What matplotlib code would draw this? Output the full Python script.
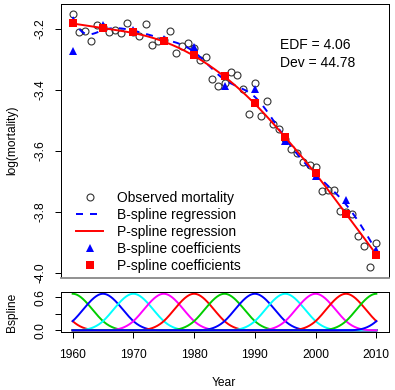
import numpy as np
import matplotlib
matplotlib.use('Agg')
import matplotlib.pyplot as plt
from matplotlib.lines import Line2D

plt.rcParams['font.family'] = ['Liberation Sans', 'DejaVu Sans']

# ---------------- data ----------------
years = list(range(1960, 2011))
log_mortality = [
    -3.152, -3.209, -3.205, -3.238, -3.186, -3.192, -3.209, -3.203, -3.214, -3.180,
    -3.210, -3.223, -3.183, -3.252, -3.238, -3.235, -3.205, -3.278, -3.255, -3.247,
    -3.262, -3.302, -3.292, -3.365, -3.386, -3.378, -3.341, -3.352, -3.398, -3.478,
    -3.376, -3.485, -3.438, -3.512, -3.529, -3.560, -3.594, -3.609, -3.638, -3.648,
    -3.653, -3.733, -3.728, -3.728, -3.799, -3.800, -3.808, -3.881, -3.914, -3.981,
    -3.903,
]
# coefficients of the 13 cubic B-splines (centres 1955, 1960, ..., 2015)
coef_years = list(range(1955, 2016, 5))
bspline_coef = [-2.69, -3.271, -3.187, -3.203, -3.234, -3.258, -3.386, -3.396,
                -3.569, -3.682, -3.763, -3.925, -4.117]
pspline_coef = [-3.170, -3.181, -3.198, -3.211, -3.238, -3.285, -3.353, -3.442,
                -3.555, -3.673, -3.807, -3.941, -4.075]
edf_text = 'EDF = 4.06'
dev_text = 'Dev = 44.78'
legend_labels = ['Observed mortality', 'B-spline regression', 'P-spline regression',
                 'B-spline coefficients', 'P-spline coefficients']
basis_colors = ['#FF0000', '#00CD00', '#0000FF', '#00FFFF', '#FF00FF']


def bbase(x, xl, xr, ndx, deg=3):
    dx = (xr - xl) / ndx
    t = xl + dx * np.arange(-deg, ndx + deg + 1)
    x = np.asarray(x, float)
    B = ((x[:, None] >= t[None, :-1]) & (x[:, None] < t[None, 1:])).astype(float)
    for d in range(1, deg + 1):
        nb = len(t) - 1 - d
        Bn = np.zeros((len(x), nb))
        for i in range(nb):
            left = (x - t[i]) / (t[i + d] - t[i]) * B[:, i]
            right = (t[i + d + 1] - x) / (t[i + d + 1] - t[i + 1]) * B[:, i + 1]
            Bn[:, i] = left + right
        B = Bn
    return B


xg = np.linspace(1960, 2010 - 1e-9, 600)
Bg = bbase(xg, 1960, 2010, 10)
b_fit = Bg @ np.array(bspline_coef)
p_fit = Bg @ np.array(pspline_coef)

W, H = 395, 390
fig = plt.figure(figsize=(W / 100, H / 100), dpi=100)
FS = 8.64
FS2 = 10.0
LW = 0.72

ax = fig.add_axes([60.5 / W, 1 - 277.5 / H, 328 / W, 273.5 / H])
ax.plot(years, log_mortality, 'o', mfc='none', mec='#333333', ms=5.0, mew=0.8, zorder=2)
ax.plot(xg, b_fit, '--', color='blue', lw=1.4, dashes=(3.6, 3.6), zorder=3)
ax.plot(xg, p_fit, '-', color='red', lw=1.4, zorder=4)
ax.plot(coef_years, bspline_coef, '^', color='blue', ms=6, mew=0, zorder=5)
ax.plot(coef_years, pspline_coef, 's', color='red', ms=5.2, mew=0, zorder=6)
ax.set_xlim(1958, 2012)
ax.set_ylim(-4.0164, -3.1179)
ax.set_xticks([])
ax.set_yticks([-4.0, -3.8, -3.6, -3.4, -3.2])
ax.set_yticklabels(['-4.0', '-3.8', '-3.6', '-3.4', '-3.2'])
ax.tick_params(axis='y', direction='out', length=4.3, width=LW, labelsize=FS,
               pad=6.0, labelrotation=90)
for lab in ax.get_yticklabels():
    lab.set_va('center')
for s in ax.spines.values():
    s.set_linewidth(LW)
    s.set_color('black')
ax.spines['bottom'].set_color('#888888')
ax.spines['bottom'].set_linewidth(1.3)

ax.text(1994.2, -3.252, edf_text, fontsize=FS2, va='center', ha='left')
ax.text(1994.2, -3.312, dev_text, fontsize=FS2, va='center', ha='left')

handles = [
    Line2D([], [], ls='none', marker='o', mfc='none', mec='#333333', ms=5.0, mew=0.8),
    Line2D([], [], ls='--', color='blue', lw=1.4, dashes=(3.6, 3.6)),
    Line2D([], [], ls='-', color='red', lw=1.4),
    Line2D([], [], ls='none', marker='^', color='blue', ms=6, mew=0),
    Line2D([], [], ls='none', marker='s', color='red', ms=5.2, mew=0),
]
fig.legend(handles, legend_labels, loc='upper left', bbox_to_anchor=(76 / W, 1 - 190.5 / H),
           frameon=False, fontsize=FS2, handlelength=1.95, handletextpad=1.0,
           labelspacing=0.22, borderpad=0, borderaxespad=0)

fig.text(12 / W, 1 - 140.5 / H, 'log(mortality)', rotation=90, ha='center', va='center',
         fontsize=FS)

# ---------------- basis panel ----------------
ax2 = fig.add_axes([60.5 / W, 1 - 331.7 / H, 328 / W, 39.4 / H])
for j in range(Bg.shape[1]):
    ax2.plot(xg, Bg[:, j], '-', color=basis_colors[j % 5], lw=1.4)
ax2.set_xlim(1958, 2012)
ax2.set_ylim(-0.0267, 0.6933)
ax2.set_xticks([1960, 1970, 1980, 1990, 2000, 2010])
ax2.set_yticks([0.0, 0.3, 0.6])
ax2.set_yticklabels(['0.0', '', '0.6'])
ax2.tick_params(axis='y', direction='out', length=4.3, width=LW, labelsize=FS,
                pad=6.0, labelrotation=90)
for lab in ax2.get_yticklabels():
    lab.set_va('center')
ax2.tick_params(axis='x', direction='out', length=4.3, width=LW, labelsize=FS, pad=8.0)
for s in ax2.spines.values():
    s.set_linewidth(LW)
    s.set_color('black')

fig.text(12 / W, 1 - 312 / H, 'Bspline', rotation=90, ha='center', va='center', fontsize=FS)
fig.text(224 / W, 1 - 383 / H, 'Year', ha='center', va='center', fontsize=FS)

fig.savefig('out.png', dpi=100)
